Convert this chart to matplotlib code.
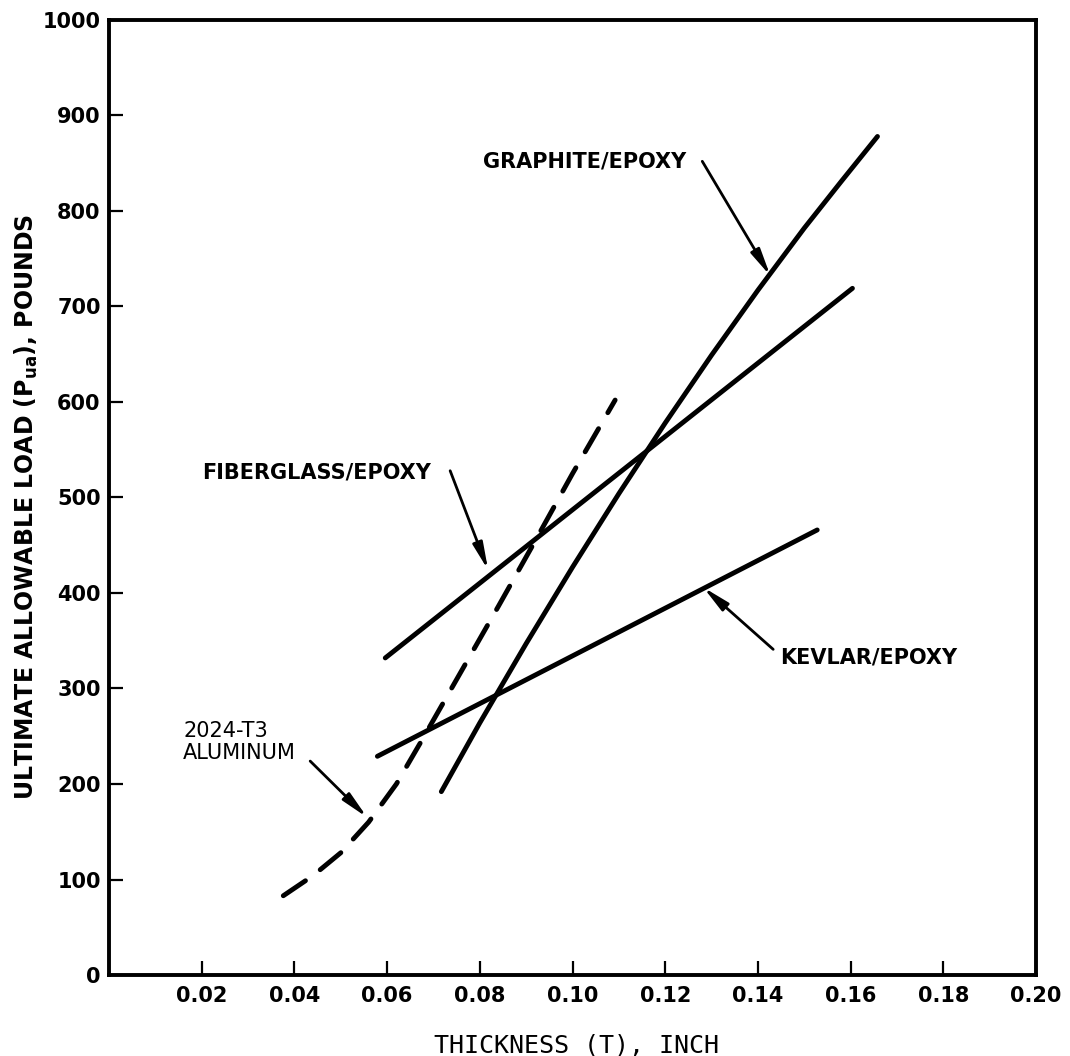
import numpy as np
import matplotlib.pyplot as plt

# thickness (inch) vs ultimate allowable load (lb)
alum_t = [0.0376, 0.044, 0.050, 0.056, 0.062, 0.068, 0.076, 0.084, 0.092, 0.100, 0.1092]
alum_p = [83, 104, 128, 160, 200, 250, 318, 386, 455, 525, 602]

graph_t = [0.0717, 0.080, 0.090, 0.100, 0.110, 0.120, 0.130, 0.140, 0.150, 0.158, 0.1658]
graph_p = [192, 264, 347, 427, 504, 578, 649, 717, 782, 831, 878]

fiber_t = [0.0596, 0.1604]
fiber_p = [332, 719]

kevlar_t = [0.0579, 0.1528]
kevlar_p = [229, 466]

xticks = [0.02, 0.04, 0.06, 0.08, 0.10, 0.12, 0.14, 0.16, 0.18, 0.20]
xticklabels = ["0.02", "0.04", "0.06", "0.08", "0.10", "0.12", "0.14", "0.16", "0.18", "0.20"]
yticks = [0, 100, 200, 300, 400, 500, 600, 700, 800, 900, 1000]

# label text, label position, arrow tail, arrow tip, weight
labels = [
    ("GRAPHITE/EPOXY", (0.0807, 852), (0.1280, 852), (0.1427, 732), "bold"),
    ("FIBERGLASS/EPOXY", (0.0201, 526), (0.0736, 528), (0.0818, 424), "bold"),
    ("KEVLAR/EPOXY", (0.1449, 332), (0.1433, 341), (0.1282, 406), "bold"),
    ("2024-T3\nALUMINUM", (0.0160, 244), (0.0434, 224), (0.0557, 165), "normal"),
]

fig = plt.figure(figsize=(10.7, 10.56), dpi=100)
ax = fig.add_axes([0.1019, 0.0767, 0.8663, 0.9044])

lw = 3.5
ax.plot(graph_t, graph_p, color="black", lw=lw, solid_capstyle="round",
        solid_joinstyle="round")
ax.plot(fiber_t, fiber_p, color="black", lw=lw, solid_capstyle="round")
ax.plot(kevlar_t, kevlar_p, color="black", lw=lw, solid_capstyle="round")
ax.plot(alum_t, alum_p, color="black", lw=lw, dashes=(5.5, 3.8),
        dash_capstyle="round")

for txt, pos, tail, tip, wt in labels:
    ax.text(pos[0], pos[1], txt, fontsize=15, fontweight=wt,
            ha="left", va="center", linespacing=1.15)
    ax.annotate("", xy=tip, xytext=tail,
                arrowprops=dict(arrowstyle="-|>,head_length=1.6,head_width=0.3",
                                color="black", lw=2, shrinkA=0, shrinkB=0))

ax.set_xlim(0, 0.20)
ax.set_ylim(0, 1000)
ax.set_xticks(xticks)
ax.set_xticklabels(xticklabels)
ax.set_yticks(yticks)
ax.tick_params(direction="in", length=10, width=1.6, labelsize=15, pad=8)
for lab in ax.get_xticklabels() + ax.get_yticklabels():
    lab.set_fontweight("bold")
ax.tick_params(axis="y", pad=6)

for s in ax.spines.values():
    s.set_linewidth(2.8)

ax.set_xlabel("THICKNESS (T), INCH", family="DejaVu Sans Mono", fontsize=18)
ax.xaxis.set_label_coords(0.504, -0.061)
ax.set_ylabel(r"ULTIMATE ALLOWABLE LOAD (P$_{\mathbf{ua}}$), POUNDS",
              fontsize=17, fontweight="bold")
ax.yaxis.set_label_coords(-0.074, 0.49)

fig.savefig("out.png", dpi=100, facecolor="white")
